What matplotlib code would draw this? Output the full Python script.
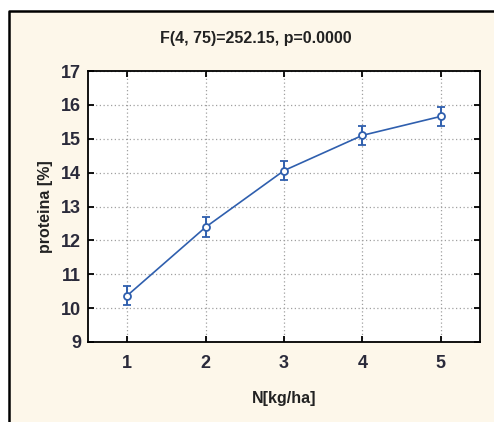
import matplotlib
matplotlib.use('Agg')
import matplotlib.pyplot as plt
from matplotlib.patches import Rectangle

# dane
dawki_n = [1, 2, 3, 4, 5]
proteina = [10.37, 12.39, 14.06, 15.10, 15.66]
blad = [0.28, 0.29, 0.28, 0.27, 0.27]
tytul = 'F(4, 75)=252.15, p=0.0000'

plt.rcParams['font.family'] = ['Liberation Sans', 'DejaVu Sans']

fig = plt.figure(figsize=(4.94, 4.22), dpi=100, facecolor='white')
# kremowe tlo z ramka (tylko lewa i gorna krawedz widoczna)
x0, y1 = 8.5 / 494, 1 - 10.5 / 422
fig.patches.append(Rectangle((x0, 0), 1 - x0, y1, transform=fig.transFigure,
                             facecolor='#fdf7ea', edgecolor='none', zorder=-10))
fig.add_artist(plt.Line2D([x0, x0, 1], [0, y1, y1], transform=fig.transFigure,
                          color='black', linewidth=1.8, zorder=-5))

ax = fig.add_axes([88 / 494, 1 - 342 / 422, 392 / 494, 271 / 422])
ax.set_facecolor('white')
ax.errorbar(dawki_n, proteina, yerr=blad, color='#2f5fae', linewidth=1.2,
            marker='o', markersize=5, markerfacecolor='white',
            markeredgewidth=1.3, capsize=3, elinewidth=1.4, capthick=1.4)

ax.set_xlim(0.5, 5.5)
ax.set_ylim(9, 17)
ax.set_xticks(dawki_n)
ax.set_yticks(range(9, 18))
ax.grid(True, linestyle=(0, (1, 2)), color='#a0a0a0', linewidth=0.9)
ax.tick_params(direction='in', top=True, right=True, length=4, width=1.3,
               labelsize=13, labelcolor='#2a2a3a')
ax.tick_params(axis='x', pad=9)
ax.tick_params(axis='y', pad=5)
for lab in ax.get_xticklabels() + ax.get_yticklabels():
    lab.set_fontweight('bold')
for s in ax.spines.values():
    s.set_linewidth(1.3)

ax.set_xlabel('N[kg/ha]', fontsize=11.5, fontweight='bold', labelpad=14,
              color='#222222')
ax.set_ylabel('proteina [%]', fontsize=11.5, fontweight='bold', labelpad=6,
              color='#222222')
fig.text(256 / 494, 1 - 38 / 422, tytul, ha='center', va='center',
         fontsize=11.5, fontweight='bold', color='#222222')

plt.savefig('out.png', dpi=100, facecolor=fig.get_facecolor())
plt.close()
